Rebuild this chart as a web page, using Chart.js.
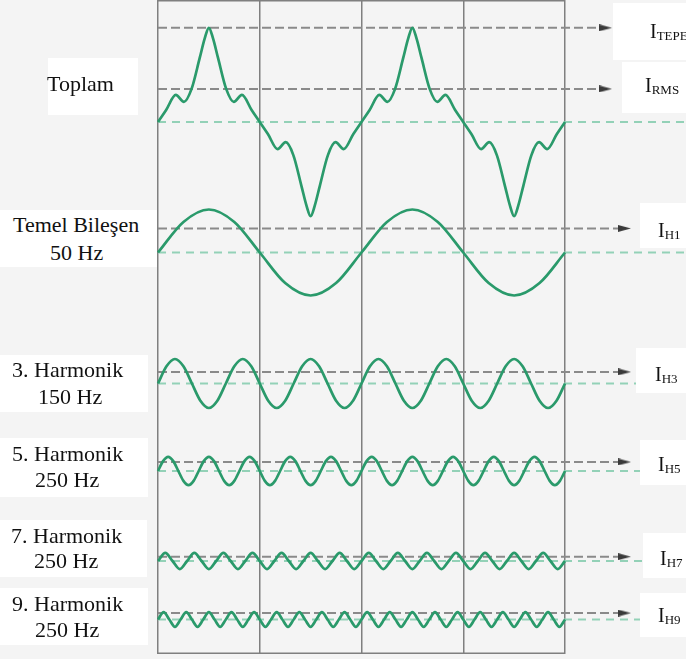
<!DOCTYPE html>
<html>
<head>
<meta charset="utf-8">
<script src="https://cdn.jsdelivr.net/npm/chart.js@4.4.1/dist/chart.umd.min.js"></script>
<style>
  html, body { margin: 0; padding: 0; background: #f4f4f4; }
  #wrap { position: relative; width: 686px; height: 659px; overflow: hidden; background: #f4f4f4; }
  #wrap canvas { position: absolute; left: 0; top: 0; }
  .box { position: absolute; background: #fff; }
  .lbl { position: absolute; font-family: "Liberation Serif", "Times New Roman", "DejaVu Serif", serif; font-size: 22px; line-height: 26px; color: #111; white-space: nowrap; }
  .cur { position: absolute; font-family: "Liberation Serif", "Times New Roman", "DejaVu Serif", serif; font-size: 20px; line-height: 24px; color: #111; white-space: nowrap; }
  .cur sub { font-size: 13px; line-height: 0; vertical-align: -2px; }
</style>
</head>
<body>
<div id="wrap">
  <canvas id="chart" width="686" height="659"></canvas>

  <!-- left labels -->
  <div class="box" style="left:48px;top:58px;width:90px;height:57px"></div>
  <div class="lbl" style="left:47px;top:71px">Toplam</div>

  <div class="box" style="left:0;top:210px;width:157px;height:57px"></div>
  <div class="lbl" style="left:13px;top:212px">Temel Bileşen</div>
  <div class="lbl" style="left:50px;top:240px">50 Hz</div>

  <div class="box" style="left:0;top:355px;width:148px;height:57px"></div>
  <div class="lbl" style="left:12px;top:357px">3. Harmonik</div>
  <div class="lbl" style="left:38px;top:384px">150 Hz</div>

  <div class="box" style="left:0;top:438px;width:148px;height:59px"></div>
  <div class="lbl" style="left:12px;top:441px">5. Harmonik</div>
  <div class="lbl" style="left:35px;top:467px">250 Hz</div>

  <div class="box" style="left:0;top:520px;width:147px;height:57px"></div>
  <div class="lbl" style="left:11px;top:523px">7. Harmonik</div>
  <div class="lbl" style="left:34px;top:548px">250 Hz</div>

  <div class="box" style="left:0;top:588px;width:148px;height:57px"></div>
  <div class="lbl" style="left:12px;top:591px">9. Harmonik</div>
  <div class="lbl" style="left:35px;top:617px">250 Hz</div>

  <!-- right labels -->
  <div class="box" style="left:613px;top:3px;width:73px;height:57px"></div>
  <div class="cur" style="left:650px;top:19px">I<sub>TEPE</sub></div>
  <div class="box" style="left:622px;top:62px;width:64px;height:51px"></div>
  <div class="cur" style="left:645px;top:73px">I<sub>RMS</sub></div>
  <div class="box" style="left:640px;top:203px;width:46px;height:45px"></div>
  <div class="cur" style="left:658px;top:218px">I<sub>H1</sub></div>
  <div class="box" style="left:636px;top:348px;width:50px;height:45px"></div>
  <div class="cur" style="left:655px;top:362px">I<sub>H3</sub></div>
  <div class="box" style="left:640px;top:440px;width:46px;height:45px"></div>
  <div class="cur" style="left:658px;top:452px">I<sub>H5</sub></div>
  <div class="box" style="left:643px;top:533px;width:43px;height:45px"></div>
  <div class="cur" style="left:660px;top:546px">I<sub>H7</sub></div>
  <div class="box" style="left:640px;top:593px;width:46px;height:44px"></div>
  <div class="cur" style="left:658px;top:603px">I<sub>H9</sub></div>
</div>

<script>
// ---- Data (time in ms, amplitude in % of the fundamental peak) ----
const DIVISIONS_MS = [0, 10, 20, 30, 40];
const FUND_PERIOD_MS = 20;

// Total current, read point by point
const TOTAL_T = [
  0, 0.8, 1.75, 2.55, 3.3, 4.1, 4.6, 5, 5.4, 5.9, 6.7, 7.45, 8.25, 9.2,
  10, 10.8, 11.75, 12.55, 13.3, 14.1, 14.6, 15, 15.4, 15.9, 16.7, 17.45, 18.25, 19.2,
  20, 20.8, 21.75, 22.55, 23.3, 24.1, 24.6, 25, 25.4, 25.9, 26.7, 27.45, 28.25, 29.2,
  30, 30.8, 31.75, 32.55, 33.3, 34.1, 34.6, 35, 35.4, 35.9, 36.7, 37.45, 38.25, 39.2,
  40,
];
const TOTAL_V = [
  0, 28, 63, 47, 77, 149, 195, 219, 195, 149, 77, 47, 63, 28,
  0, -28, -63, -47, -77, -149, -195, -219, -195, -149, -77, -47, -63, -28,
  0, 28, 63, 47, 77, 149, 195, 219, 195, 149, 77, 47, 63, 28,
  0, -28, -63, -47, -77, -149, -195, -219, -195, -149, -77, -47, -63, -28,
  0,
];

// Harmonics, sampled evenly (8 or 4 samples per period)
const H1_V = [0, 71, 100, 71, 0, -71, -100, -71, 0, 71, 100, 71, 0, -71, -100, -71, 0];
const H3_V = [
  0, 40, 57, 40, 0, -40, -57, -40, 0, 40, 57, 40, 0, -40, -57, -40,
  0, 40, 57, 40, 0, -40, -57, -40, 0, 40, 57, 40, 0, -40, -57, -40,
  0, 40, 57, 40, 0, -40, -57, -40, 0, 40, 57, 40, 0, -40, -57, -40,
  0,
];
const H5_V = [
  0, 23, 33, 23, 0, -23, -33, -23, 0, 23, 33, 23, 0, -23, -33, -23,
  0, 23, 33, 23, 0, -23, -33, -23, 0, 23, 33, 23, 0, -23, -33, -23,
  0, 23, 33, 23, 0, -23, -33, -23, 0, 23, 33, 23, 0, -23, -33, -23,
  0, 23, 33, 23, 0, -23, -33, -23, 0, 23, 33, 23, 0, -23, -33, -23,
  0, 23, 33, 23, 0, -23, -33, -23, 0, 23, 33, 23, 0, -23, -33, -23,
  0,
];
const H7_V = [
  0, 19, 0, -19, 0, 19, 0, -19, 0, 19, 0, -19, 0, 19, 0, -19,
  0, 19, 0, -19, 0, 19, 0, -19, 0, 19, 0, -19, 0, 19, 0, -19,
  0, 19, 0, -19, 0, 19, 0, -19, 0, 19, 0, -19, 0, 19, 0, -19,
  0, 19, 0, -19, 0, 19, 0, -19,
  0,
];
const H9_V = [
  0, 17, 0, -17, 0, 17, 0, -17, 0, 17, 0, -17, 0, 17, 0, -17,
  0, 17, 0, -17, 0, 17, 0, -17, 0, 17, 0, -17, 0, 17, 0, -17,
  0, 17, 0, -17, 0, 17, 0, -17, 0, 17, 0, -17, 0, 17, 0, -17,
  0, 17, 0, -17, 0, 17, 0, -17, 0, 17, 0, -17, 0, 17, 0, -17,
  0, 17, 0, -17, 0, 17, 0, -17,
  0,
];
const HARMONIC_ORDERS = [1, 3, 5, 7, 9];
const SAMPLES_PER_PERIOD = [8, 8, 8, 4, 4];

// Levels of the arrowed reference lines (% above the row's zero line)
const REF_NAMES = ['TEPE', 'RMS', 'H1', 'H3', 'H5', 'H7', 'H9'];
const REF_LEVELS = [219, 77, 56, 27, 21, 10, 15];

// ---- Layout (px) ----
const CANVAS_W = 686, CANVAS_H = 659;
const FRAME = { left: 158, right: 565, bottom: 654 };
const PX_PER_PCT = 0.43;
const ROW_BASE = { total: 122, H1: 252.5, H3: 383.5, H5: 471, H7: 561, H9: 619.5 };
const REF_ROW = ['total', 'total', 'H1', 'H3', 'H5', 'H7', 'H9'];
const REF_TIP_PX = [612, 612, 631, 631, 631, 631, 631];

const WAVE_COLOR = '#2a9a6b';
const ZERO_COLOR = '#93d1b7';
const REF_COLOR = '#8a8a8a';
const GRID_COLOR = '#7f7f7f';

const MS_PER_PX = 40 / (FRAME.right - FRAME.left);
const X_MIN = -FRAME.left * MS_PER_PX;
const X_MAX = 40 + (CANVAS_W - FRAME.right) * MS_PER_PX;
const pxToMs = px => (px - FRAME.left) * MS_PER_PX;
const rowY = (row, v) => ROW_BASE[row] - v * PX_PER_PCT;

// arrow head used as point style
const arrowHead = document.createElement('canvas');
arrowHead.width = 13; arrowHead.height = 7;
(() => {
  const a = arrowHead.getContext('2d');
  a.fillStyle = '#3a3a3a';
  a.beginPath(); a.moveTo(0, 0); a.lineTo(13, 3.5); a.lineTo(0, 7); a.closePath(); a.fill();
})();

function wave(times, values, row) {
  return {
    data: values.map((v, i) => ({ x: times[i], y: rowY(row, v) })),
    borderColor: WAVE_COLOR,
    borderWidth: 2.7,
    pointRadius: 0,
    cubicInterpolationMode: 'monotone',
    order: 0,
  };
}

const datasets = [];

// zero lines (green dashed)
Object.keys(ROW_BASE).forEach(row => {
  datasets.push({
    data: [{ x: 0, y: rowY(row, 0) }, { x: X_MAX, y: rowY(row, 0) }],
    borderColor: ZERO_COLOR, borderWidth: 1.8, borderDash: [8, 6],
    pointRadius: 0, order: 2,
  });
});

// reference lines with arrow (gray dashed)
REF_NAMES.forEach((name, i) => {
  const y = rowY(REF_ROW[i], REF_LEVELS[i]);
  datasets.push({
    label: 'I ' + name,
    data: [{ x: 0, y }, { x: pxToMs(REF_TIP_PX[i] - 6.5), y }],
    borderColor: REF_COLOR, borderWidth: 2, borderDash: [9, 4],
    pointRadius: [0, 6], pointStyle: arrowHead,
    order: 1,
  });
});

// waveforms
datasets.push(wave(TOTAL_T, TOTAL_V, 'total'));
[H1_V, H3_V, H5_V, H7_V, H9_V].forEach((vals, k) => {
  const step = FUND_PERIOD_MS / HARMONIC_ORDERS[k] / SAMPLES_PER_PERIOD[k];
  const times = vals.map((_, i) => i * step);
  datasets.push(wave(times, vals, 'H' + HARMONIC_ORDERS[k]));
});

// top and bottom border of the frame
const framePlugin = {
  id: 'frame',
  beforeDatasetsDraw(chart) {
    const { ctx, scales: { x } } = chart;
    const l = x.getPixelForValue(DIVISIONS_MS[0]);
    const r = x.getPixelForValue(DIVISIONS_MS[DIVISIONS_MS.length - 1]);
    ctx.save();
    ctx.strokeStyle = GRID_COLOR;
    ctx.lineWidth = 1.5;
    ctx.beginPath();
    ctx.moveTo(l, 0.75); ctx.lineTo(r, 0.75);
    ctx.moveTo(l, FRAME.bottom - 0.75); ctx.lineTo(r, FRAME.bottom - 0.75);
    ctx.stroke();
    ctx.restore();
  },
};

new Chart(document.getElementById('chart'), {
  type: 'line',
  data: { datasets },
  options: {
    responsive: false,
    animation: false,
    devicePixelRatio: 1,
    events: [],
    layout: { autoPadding: false, padding: { left: 0, right: 0, top: 0, bottom: CANVAS_H - FRAME.bottom } },
    plugins: { legend: { display: false }, tooltip: { enabled: false } },
    scales: {
      x: {
        type: 'linear',
        min: X_MIN,
        max: X_MAX,
        border: { display: false },
        grid: { color: GRID_COLOR, lineWidth: 1.5, drawTicks: false },
        ticks: { display: false },
        afterBuildTicks: s => { s.ticks = DIVISIONS_MS.map(v => ({ value: v })); },
      },
      y: { type: 'linear', display: false, reverse: true, min: 0, max: FRAME.bottom },
    },
  },
  plugins: [framePlugin],
});
</script>
</body>
</html>
